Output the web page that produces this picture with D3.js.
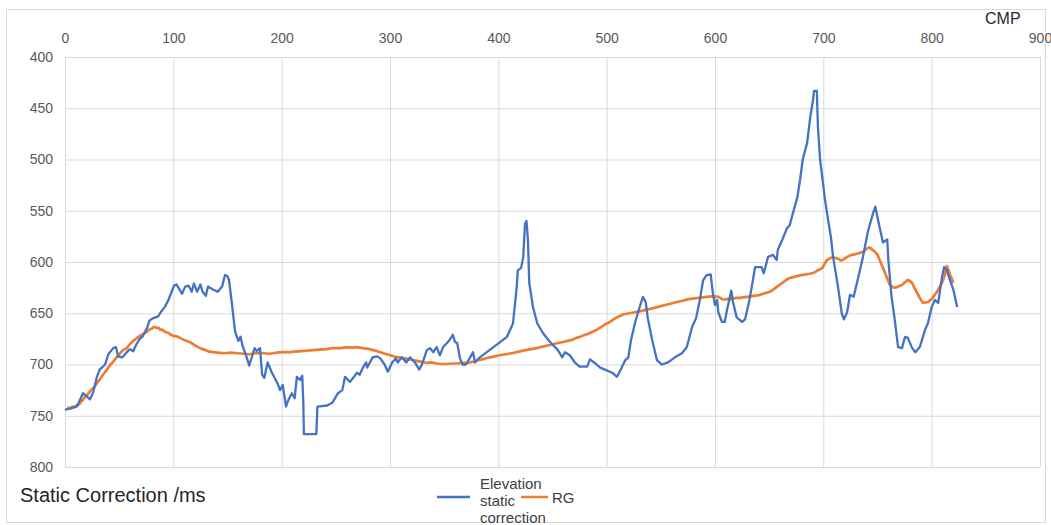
<!DOCTYPE html>
<html><head><meta charset="utf-8">
<script src="https://cdn.jsdelivr.net/npm/d3@7"></script>
<style>html,body{margin:0;padding:0;background:#fff;}svg{display:block;font-family:"Liberation Sans",Arial,sans-serif;}</style>
</head><body><svg id="c" width="1051" height="525"></svg>
<script>
const xTicks = [0,100,200,300,400,500,600,700,800,900];
const yTicks = [400,450,500,550,600,650,700,750,800];
const seriesNames = ["Elevation static correction","RG"];
const seriesColors = ["#4472C4","#ED7D31"];
const elevation = [[0,744],[5,743],[11,741],[16.6,728],[20,731],[23,734],[26,727],[29.5,712],[32,705],[37,700],[40,690],[44.5,684],[47,683],[49,692],[53,693],[57,688],[60,685],[63,687],[66,680],[69,675],[72,672],[75.5,665],[78,657],[81,655],[86,653],[89,648],[92,644],[95,638],[98.5,629],[100.6,623],[103,622],[108,631],[111,624],[114,623],[117,629],[119,621],[122,629],[125,622],[127,629],[130,633],[132,624],[137,627],[141,629],[145,624],[147.7,612.7],[150,614],[151.4,617.6],[154,640],[157,668],[160,677],[162,673],[164,682],[168,694],[170,701],[173,691],[175,684],[177,687],[180,684],[182,710],[184,713],[187,698],[191,708],[196,718],[198.5,725],[201,720],[204,741],[206,735],[209.5,728],[212,733],[214,712],[217,715],[219,711],[220,738],[220.5,768],[232,768],[233,741],[242,740],[247,737],[252,728],[256,725],[258.5,712],[263,717],[266,713],[269.5,708],[272,710],[275,703],[278,698],[279,703],[281.5,698],[284,693],[288,692],[291,694],[295,700],[298,707],[302,698],[305.5,694],[307,698],[311,693],[315,698],[318.5,693],[323,698],[327,705],[329.5,700],[334,686],[337,684],[340,688],[343,683],[346,691],[349,683],[352.6,679],[355,676],[358,671],[360,678],[362,679],[364.6,694],[367,700],[370,700],[374,693],[376.6,688],[378.5,698],[383,693],[408,673],[413.5,660],[417,624],[418,608],[421,606],[423,595],[424.6,563],[426,560],[427.4,580],[428.5,620],[432,644],[436,660],[441,669],[447.7,678],[455,686],[459,693],[461.5,688],[466,691],[471,698.5],[475,702],[482,702],[484.6,695],[489,698.5],[494,703],[498.5,705],[505,708],[509.5,712],[512,707],[517,696],[520,693],[522.5,676],[526,660],[531,642],[533.5,634],[536,639],[538,655],[542,676],[546.5,696],[551,700],[556.6,698],[563,693],[569.5,689],[574,683],[579,663],[582.5,655],[586,637],[589,618],[592,613],[596,612],[598,630],[600,642],[602,637],[603,649],[606.5,658.5],[609,658.5],[611,647],[615,628],[616.6,639],[620,654],[625,658.5],[627.7,656],[631,641],[634,624],[637,605],[643,605],[645,611],[649,595],[653.5,593],[657,598],[658,588],[662,578.5],[666.5,567],[669,564],[672,552],[676,537],[678.5,520],[681,500],[685,484],[688,458],[690.5,442],[691.4,433],[694,433],[695,468],[697,500],[699,517],[701.5,539],[704,556],[707,576],[709,595],[713.5,624],[717,650],[719,656],[722,649],[724.6,632],[728,634],[732,616],[736.6,595],[741,571],[746,552],[748,546],[750.5,559],[755,581],[759,578],[760,598],[763,634],[766,657],[769,683],[772.6,684],[775.4,673],[778,674],[782,684],[785,688],[789,683],[794,666],[796.6,659.5],[800,644],[803,637],[806,640],[809.5,615],[811.4,605],[814,608],[817,618],[820,627],[823.6,644]];
const rg = [[2,742],[5,742.5],[7,741],[9,741.5],[11,739.5],[13,739],[15,736],[17,734],[18.5,731.7],[21,729],[24,725],[27,722],[29.5,718],[32,715],[35,710],[38,706],[41.5,700.5],[44,698],[47,694],[50,690],[53.5,686],[57,684],[60,680],[63,677],[66.5,674],[69,672],[71,671],[73,669.5],[75.7,668],[78,666],[80,665],[82,663.5],[83,663.4],[85,664.5],[86,664],[88,666],[89.5,666],[92,668],[95,669],[97,670.5],[99.7,672],[103,672.5],[106,674],[109,675.5],[112.6,677],[115,678],[118,680],[121,682],[124.6,684],[127,685],[130,686],[133,687.5],[136.6,688],[141,688.5],[147,689],[153,688.5],[159,689],[165,689.5],[170,690],[176,689],[183,689],[189,689.5],[195,688.5],[201,688],[207.7,688],[212,687.5],[218,687],[224,686.5],[229,686],[235,685.5],[241,685],[247,684],[254,684],[260,683],[265,683.5],[270,683],[275,684],[281,685],[288,687],[294,689],[300,691],[305,692.5],[311,693.5],[316,694.5],[321,695.6],[327,697],[334,698.5],[338,698],[343,699],[348,699.5],[352.6,699.5],[357,699],[362,699],[366,698.5],[371,698.5],[376,697.5],[380,696],[385,695],[389.5,693.7],[395,692.5],[401,691],[407,690],[413.5,688.8],[419,687.5],[425,686],[430,685],[435.7,684],[441,682.5],[447.7,681],[453,679.5],[459.7,678],[464,677],[468,676],[472,674],[475.4,673],[479,671.5],[483,670],[487,668],[491,666],[494,664],[497,662],[500,660],[503,658.5],[507,655.5],[512,652.7],[516,651],[521,650],[526,649],[531,648],[535,647],[539,646],[543,645],[546.5,644],[550,643],[554,642],[558,641],[561,640],[565,639],[569,638],[573,637],[577,636],[581,635.5],[585,635],[589,634.5],[592.6,634],[597,633.5],[602,633.7],[605,635],[607,636.6],[610,636.5],[612,636],[614,636.5],[616.6,635.6],[620,635],[623,635],[626,634.5],[629.5,634],[633,633.5],[636,633],[639,632.5],[641.6,632],[646,630.5],[650.8,629],[653,627.5],[655,626],[658,623.5],[660,622],[662,620.5],[664,619],[667,616.5],[669,615.6],[673,614.5],[678.5,613],[681,612.5],[684,612],[687,611.5],[690.5,610.7],[693,609.5],[695,608],[697,607],[699,606],[701,602],[703.4,598],[706,596.5],[709,595],[711,596],[714,597],[716,598.5],[718,598],[720,596.5],[722,595],[724,594],[726.5,593],[729,592.5],[731,592],[734,591],[736.6,590],[739,588],[742,586],[744,586.5],[745,588],[747.7,590],[750,593],[752,598],[754,603],[757,610.7],[759,616],[761.5,622.4],[764,624.5],[766,625],[768,624.5],[769,624],[771,623],[772.6,622.4],[775,620],[778,617.6],[780,618.5],[782,620.5],[784,625],[786.5,630],[789,635],[792,640],[794,639.5],[796.6,639],[800,636],[803,632],[806,627],[809.5,620.5],[812,613],[814,604],[815.5,608],[817,612.7],[818.5,616],[820,620.5]];

(function(){
const svg = d3.select("#c");
const W = 1051;
const pL = 65, pR = 1040, pT = 57, pB = 467;
const x = d3.scaleLinear().domain([0,900]).range([pL,pR]);
const y = d3.scaleLinear().domain([400,800]).range([pT,pB]);
const FF = "Liberation Sans, Arial, sans-serif";

svg.append("rect").attr("x",6.5).attr("y",9.5).attr("width",1039).attr("height",513)
  .attr("fill","none").attr("stroke","#d9d9d9").attr("stroke-width",1);

const gx = svg.append("g").attr("transform",`translate(0,${pT})`)
  .call(d3.axisTop(x).tickValues(xTicks).tickSize(-(pB-pT)).tickFormat(""));
gx.select(".domain").remove();
gx.selectAll("line").attr("stroke","#d9d9d9");
const gy = svg.append("g").attr("transform",`translate(${pL},0)`)
  .call(d3.axisLeft(y).tickValues(yTicks).tickSize(-(pR-pL)).tickFormat(""));
gy.select(".domain").remove();
gy.selectAll("line").attr("stroke","#d9d9d9");

const ax = svg.append("g").attr("transform",`translate(0,${pT-11})`)
  .call(d3.axisTop(x).tickValues(xTicks).tickSize(0).tickFormat(d3.format("d")));
ax.select(".domain").remove();
ax.selectAll("text").attr("fill","#595959").attr("font-size","14px").attr("font-family",FF);
const ay = svg.append("g").attr("transform",`translate(${pL-9},0)`)
  .call(d3.axisLeft(y).tickValues(yTicks).tickSize(0).tickFormat(d3.format("d")));
ay.select(".domain").remove();
ay.selectAll("text").attr("fill","#595959").attr("font-size","14px").attr("font-family",FF);

const line = d3.line().x(d=>x(d[0])).y(d=>y(d[1]));
svg.append("path").datum(rg).attr("d",line).attr("fill","none")
  .attr("stroke",seriesColors[1]).attr("stroke-width",2.7).attr("stroke-linejoin","round");
svg.append("path").datum(elevation).attr("d",line).attr("fill","none")
  .attr("stroke",seriesColors[0]).attr("stroke-width",2.3).attr("stroke-linejoin","round");

svg.append("text").attr("x",985).attr("y",24).attr("font-size","16px").attr("fill","#262626").text("CMP");
svg.append("text").attr("x",20).attr("y",502).attr("font-size","20px").attr("fill","#262626").text("Static Correction /ms");

const lg = svg.append("g");
lg.append("line").attr("x1",437).attr("x2",470).attr("y1",497).attr("y2",497).attr("stroke",seriesColors[0]).attr("stroke-width",2.5);
const t = lg.append("text").attr("font-size","15px").attr("fill","#404040");
["Elevation","static","correction"].forEach((s,i)=>t.append("tspan").attr("x",480).attr("y",489+i*17).text(s));
lg.append("line").attr("x1",521).attr("x2",548).attr("y1",497).attr("y2",497).attr("stroke",seriesColors[1]).attr("stroke-width",2.5);
lg.append("text").attr("x",552).attr("y",502.5).attr("font-size","15px").attr("fill","#404040").text(seriesNames[1]);
svg.append("rect").attr("x",0).attr("y",523).attr("width",W).attr("height",2).attr("fill","#fff");
})();
</script></body></html>
